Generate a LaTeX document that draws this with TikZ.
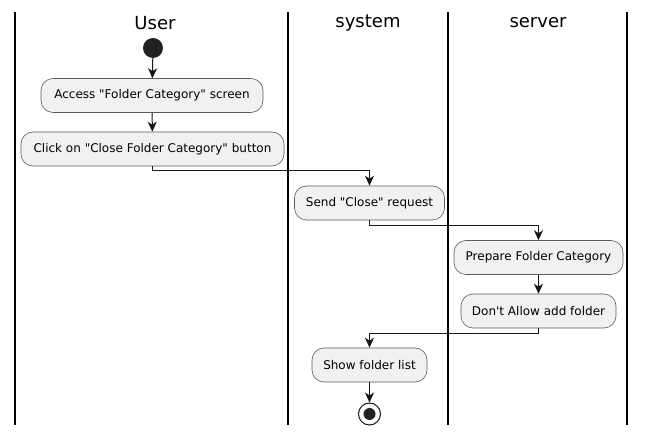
\documentclass[tikz,border=0pt]{standalone}
\usepackage{fontspec}
\setmainfont{DejaVu Sans}[Ligatures=TeXOff]
\usetikzlibrary{arrows.meta}
\definecolor{boxfill}{HTML}{F1F1F1}
\definecolor{ink}{HTML}{181818}
\definecolor{dot}{HTML}{222222}
\begin{document}
\begin{tikzpicture}[x=1pt,y=-1pt,
  act/.style={draw=ink!70, line width=0.6pt, fill=boxfill, rounded corners=12pt,
    minimum height=34pt, inner sep=0pt, font=\fontsize{12}{14}\selectfont, text=black},
  arr/.style={draw=ink, line width=1pt, -{Stealth[length=10pt,width=9pt,inset=3pt]}},
  lane/.style={draw=black, line width=1.5pt},
  title/.style={font=\fontsize{18}{21}\selectfont, text=black, inner sep=0pt}]
\useasboundingbox (0,0) rectangle (646,435);
\fill[white] (0,0) rectangle (646,435);
% lanes
\draw[lane] (15,12) -- (15,425);
\draw[lane] (288,12) -- (288,425);
\draw[lane] (448,12) -- (448,425);
\draw[lane] (627,12) -- (627,425);
\node[title] (tu) at (155,23) {User};
\node[title] (ts) at (368,23) {system};
\node[title] (tv) at (538,23) {server};
% nodes
\node[circle, fill=dot, minimum size=20pt, inner sep=0pt] (start) at (153,48) {};
\node[act, minimum width=222pt] (b1) at (152,95.5) {Access "Folder Category" screen};
\node[act, minimum width=263pt] (b2) at (152.5,149) {Click on "Close Folder Category" button};
\node[act, minimum width=150pt] (b3) at (369.5,203) {Send "Close" request};
\node[act, minimum width=169pt] (b4) at (538.5,257.5) {Prepare Folder Category};
\node[act, minimum width=155pt] (b5) at (538.5,311) {Don't Allow add folder};
\node[act, minimum width=115pt] (b6) at (369.5,365) {Show folder list};
\node[circle, draw=ink, line width=1pt, fill=white, minimum size=22pt, inner sep=0pt] (stop) at (369.5,414) {};
\node[circle, fill=dot, minimum size=12pt, inner sep=0pt] (stopin) at (369.5,414) {};
% connectors
\draw[arr] (start) -- (b1);
\draw[arr] (b1) -- (b2);
\draw[arr] (b2.south) -- ++(0,4) -| (b3.north);
\draw[arr] (b3.south) -- ++(0,5) -| (b4.north);
\draw[arr] (b4) -- (b5);
\draw[arr] (b5.south) -- ++(0,5) -| (b6.north);
\draw[arr] (b6) -- (stop);
\end{tikzpicture}
\end{document}
